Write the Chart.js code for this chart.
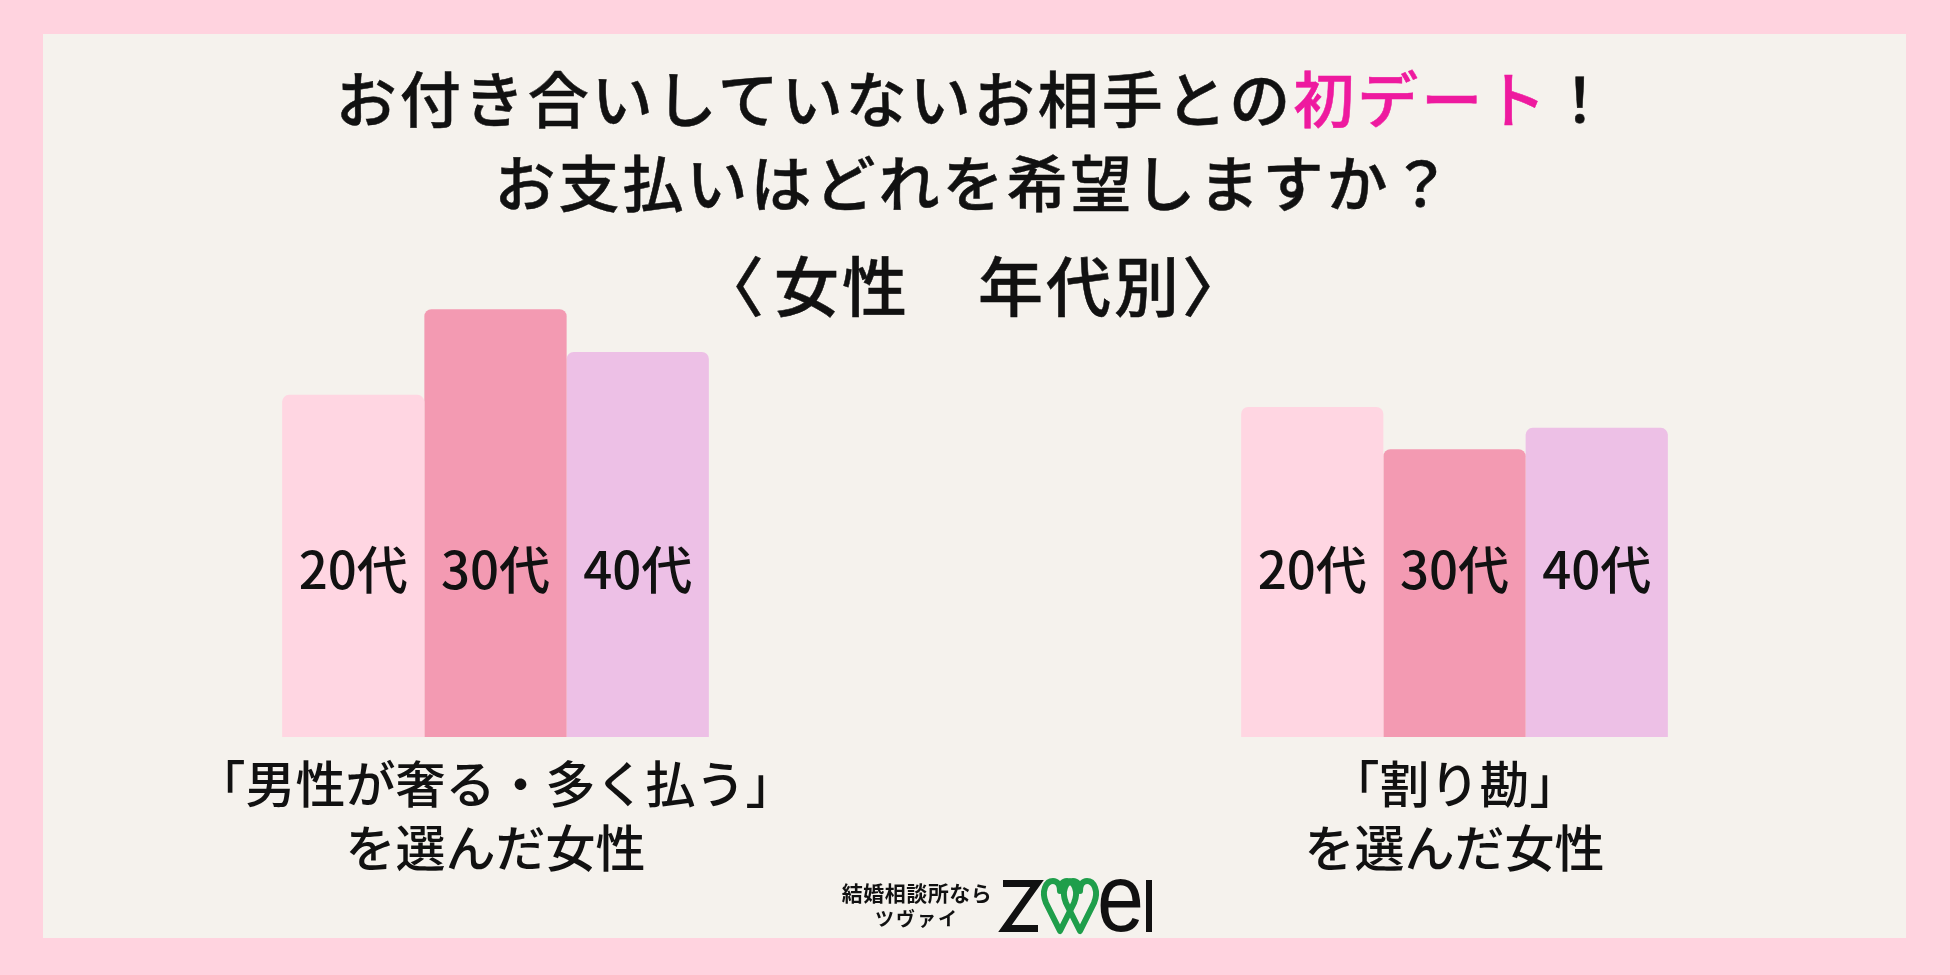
<!DOCTYPE html>
<html lang="ja">
<head>
<meta charset="utf-8">
<script src="https://cdn.jsdelivr.net/npm/chart.js@4.4.1/dist/chart.umd.min.js"></script>
<style>
  html, body { margin: 0; padding: 0; }
  body { width: 1950px; height: 975px; background: #FFD3DF; position: relative; overflow: hidden;
         font-family: "Noto Sans CJK JP", "Noto Sans", sans-serif; color: #111; }
  .panel { position: absolute; left: 43px; top: 34px; width: 1863px; height: 904px; background: #F5F2ED; }
  .title { position: absolute; left: 43px; width: 1863px; text-align: center; font-weight: 500;
           -webkit-text-stroke: 0.5px currentColor; white-space: nowrap; }
  .t1 { top: 55px; font-size: 61px; line-height: 84px; letter-spacing: 3px; }
  .t3 { top: 241px; font-size: 65px; line-height: 84px; letter-spacing: 3px; }
  .t3 .gap { letter-spacing: 10px; }
  .pink { color: #EE1A9F; }
  .chart-wrap { position: absolute; left: 0; top: 0; width: 1950px; height: 975px; }
  .brand { position: absolute; left: 830px; width: 174px; text-align: center; font-weight: 700; white-space: nowrap; }
  .b1 { top: 878px; font-size: 21px; line-height: 28px; letter-spacing: 0.5px; }
  .b2 { top: 904px; font-size: 19px; line-height: 28px; letter-spacing: 2px; }
  .logo { position: absolute; left: 995px; top: 870px; }
</style>
</head>
<body>
<div class="panel"></div>
<div class="chart-wrap"><canvas id="c" width="1950" height="975"></canvas></div>
<div class="title t1">お付き合いしていないお相手との<span class="pink">初デート</span>！<br>お支払いはどれを希望しますか？</div>
<div class="title t3"><span class="gap">〈</span>女性　年代別〉</div>
<div class="brand b1">結婚相談所なら</div>
<div class="brand b2">ツヴァイ</div>
<svg class="logo" width="170" height="70" viewBox="0 0 170 70">
  <path d="M8,13.5 H42 L10,58.5 H43" fill="none" stroke="#111" stroke-width="7"/>
  <path d="M65,61 L51,33 C46,21 51,11 58,11 C62,11 65,14 65,21 C65,14 68,11 72,11 C79,11 84,21 79,33 Z" fill="none" stroke="#1F9E4B" stroke-width="6" stroke-linejoin="round"/>
  <path d="M85,61 L71,33 C66,21 71,11 78,11 C82,11 85,14 85,21 C85,14 88,11 92,11 C99,11 104,21 99,33 Z" fill="none" stroke="#1F9E4B" stroke-width="6" stroke-linejoin="round"/>
  <text transform="translate(102,61) scale(0.88,1)" font-size="96" font-family="Liberation Sans, sans-serif" fill="#111">e</text>
  <rect x="151" y="10" width="6" height="52" fill="#111"/>
</svg>
<script>
// categories (two answer groups) and age bands
const groups = [
  ['「男性が奢る・多く払う」', 'を選んだ女性'],
  ['「割り勘」', 'を選んだ女性']
];
const ages = ['20代', '30代', '40代'];

// bar heights (relative, same scale for all bars)
const values20 = [56, 54];
const values30 = [70, 47.1];
const values40 = [63, 50.6];

const barColors = ['#FFD6E2', '#F39AB2', '#EDC0E6'];

// ── draws the age label inside each bar ─────────────────────────────────────
const insideLabels = {
  id: 'insideLabels',
  afterDatasetsDraw(chart) {
    const ctx = chart.ctx;
    const y = chart.chartArea.bottom - 167;
    ctx.save();
    ctx.font = '500 51px "Noto Sans CJK JP", sans-serif';
    ctx.fillStyle = '#111';
    ctx.textAlign = 'center';
    ctx.textBaseline = 'middle';
    chart.data.datasets.forEach((ds, i) => {
      chart.getDatasetMeta(i).data.forEach(bar => {
        ctx.fillText(ds.label, bar.x, y);
      });
    });
    ctx.restore();
  }
};

const seriesValues = [values20, values30, values40];

new Chart(document.getElementById('c'), {
  type: 'bar',
  data: {
    labels: groups,
    datasets: ages.map((a, i) => ({
      label: a,
      data: seriesValues[i],
      backgroundColor: barColors[i],
      borderRadius: { topLeft: 7, topRight: 7 },
      borderSkipped: 'start',
      categoryPercentage: 0.445,
      barPercentage: 1.0
    }))
  },
  options: {
    responsive: false,
    animation: false,
    layout: { padding: { left: 16, right: 16, top: 126, bottom: 0 } },
    plugins: { legend: { display: false }, tooltip: { enabled: false }, title: { display: false } },
    scales: {
      y: { display: false, min: 0, max: 100 },
      x: {
        grid: { display: false, drawTicks: false },
        border: { display: false },
        ticks: {
          color: '#111',
          padding: 15,
          autoSkip: false,
          maxRotation: 0,
          font: { family: '"Noto Sans CJK JP", sans-serif', size: 50, weight: 500, lineHeight: 64 / 50 }
        },
        afterFit(scale) { scale.height = 238; }
      }
    }
  },
  plugins: [insideLabels]
});
</script>
</body>
</html>
